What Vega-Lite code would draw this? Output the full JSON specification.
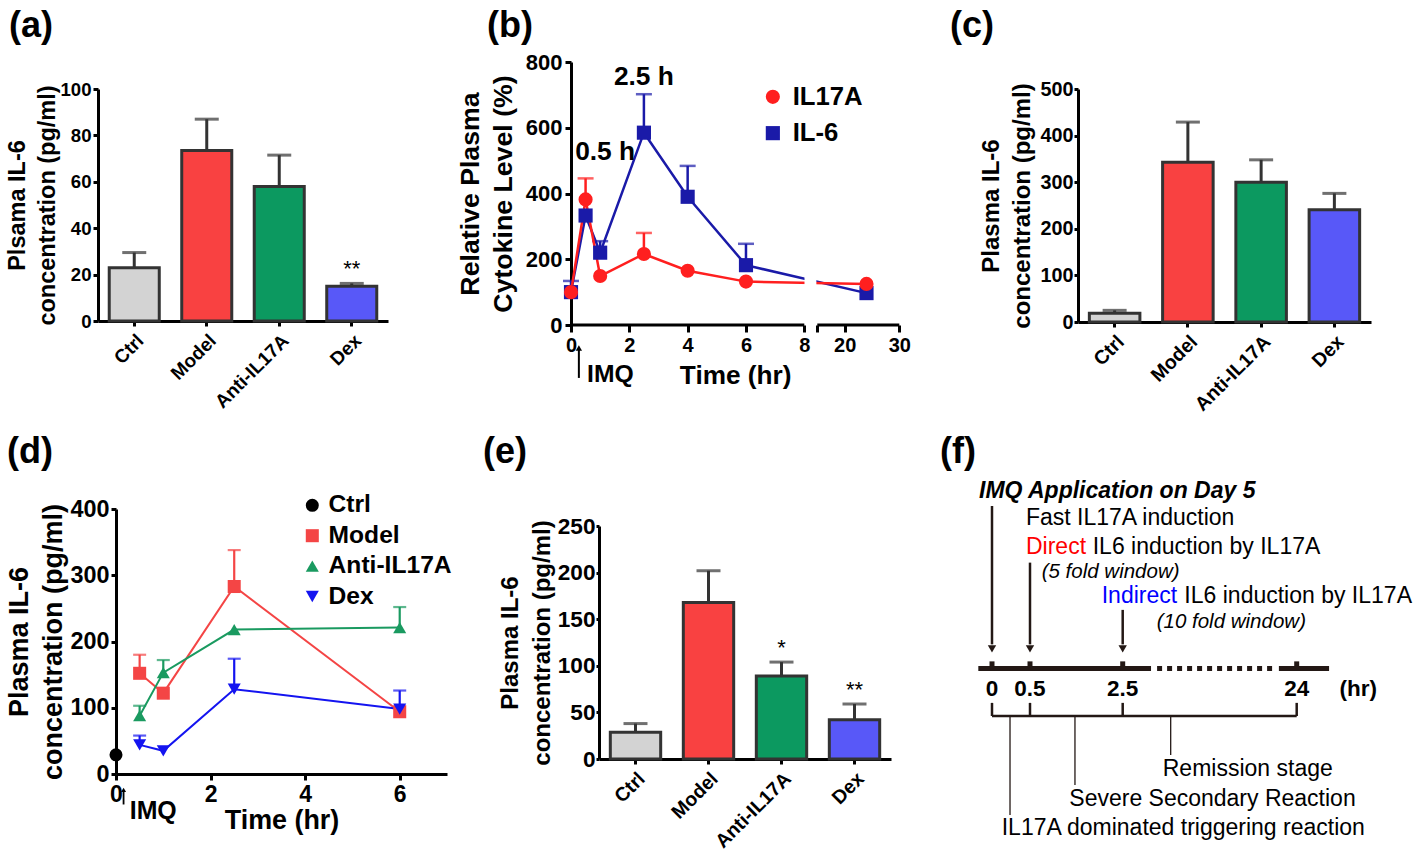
{
  "$schema": "https://vega.github.io/schema/vega-lite/v6.json",
  "background": "white",
  "padding": {"left": 4, "top": 8, "right": 0, "bottom": 0},
  "config": {
    "font": "Liberation Sans",
    "view": {"stroke": null},
    "axis": {"grid": false, "domainColor": "#000000", "domainWidth": 3, "tickColor": "#000000", "tickWidth": 3, "labelColor": "#000000", "labelFont": "Liberation Sans", "labelFontWeight": "bold", "titleColor": "#000000", "titleFont": "Liberation Sans", "titleFontWeight": "bold", "labelOverlap": false, "labelFlush": false},
    "title": {"anchor": "start", "frame": "group", "fontSize": 36, "fontWeight": "bold", "color": "#000000", "font": "Liberation Sans", "offset": 0},
    "legend": {"labelFont": "Liberation Sans", "labelFontWeight": "bold", "labelColor": "#000000"},
    "text": {"font": "Liberation Sans"}
  },
  "datasets": {
    "a": [
      {"g": "Ctrl", "mean": 23, "upper": 29.5},
      {"g": "Model", "mean": 73.5, "upper": 87},
      {"g": "Anti-IL17A", "mean": 58, "upper": 71.5},
      {"g": "Dex", "mean": 15, "upper": 16.2, "sig": "**"}
    ],
    "c": [
      {"g": "Ctrl", "mean": 19, "upper": 25},
      {"g": "Model", "mean": 343, "upper": 429},
      {"g": "Anti-IL17A", "mean": 300, "upper": 348},
      {"g": "Dex", "mean": 241, "upper": 276}
    ],
    "e": [
      {"g": "Ctrl", "mean": 28.6, "upper": 38},
      {"g": "Model", "mean": 168, "upper": 202},
      {"g": "Anti-IL17A", "mean": 89, "upper": 104, "sig": "*"},
      {"g": "Dex", "mean": 42, "upper": 59, "sig": "**"}
    ],
    "b": [
      {"series": "IL-6", "t": 0, "mean": 100, "upper": 134},
      {"series": "IL-6", "t": 0.5, "mean": 333},
      {"series": "IL-6", "t": 1, "mean": 220, "upper": 255},
      {"series": "IL-6", "t": 2.5, "mean": 585, "upper": 702},
      {"series": "IL-6", "t": 4, "mean": 390, "upper": 484},
      {"series": "IL-6", "t": 6, "mean": 182, "upper": 247},
      {"series": "IL-6", "t": 24, "mean": 97},
      {"series": "IL17A", "t": 0, "mean": 100},
      {"series": "IL17A", "t": 0.5, "mean": 382, "upper": 446},
      {"series": "IL17A", "t": 1, "mean": 149},
      {"series": "IL17A", "t": 2.5, "mean": 216, "upper": 280},
      {"series": "IL17A", "t": 4, "mean": 165},
      {"series": "IL17A", "t": 6, "mean": 132},
      {"series": "IL17A", "t": 24, "mean": 125}
    ],
    "d": [
      {"series": "Ctrl", "t": 0, "mean": 29},
      {"series": "Model", "t": 0.5, "mean": 152, "upper": 180},
      {"series": "Model", "t": 1, "mean": 122},
      {"series": "Model", "t": 2.5, "mean": 283, "upper": 338},
      {"series": "Model", "t": 6, "mean": 94},
      {"series": "Anti-IL17A", "t": 0.5, "mean": 88, "upper": 103},
      {"series": "Anti-IL17A", "t": 1, "mean": 153, "upper": 172},
      {"series": "Anti-IL17A", "t": 2.5, "mean": 218},
      {"series": "Anti-IL17A", "t": 6, "mean": 221, "upper": 252},
      {"series": "Dex", "t": 0.5, "mean": 44, "upper": 58},
      {"series": "Dex", "t": 1, "mean": 35},
      {"series": "Dex", "t": 2.5, "mean": 128, "upper": 174},
      {"series": "Dex", "t": 6, "mean": 98, "upper": 126}
    ]
  },
  "spacing": 19,
  "resolve": {"scale": {"color": "independent", "shape": "independent", "fill": "independent", "stroke": "independent"}, "legend": {"color": "independent", "shape": "independent"}},
  "vconcat": [
    {
      "spacing": 0,
      "resolve": {"scale": {"color": "independent", "shape": "independent", "fill": "independent", "stroke": "independent"}, "legend": {"color": "independent", "shape": "independent"}},
      "hconcat": [
        {"width": 1, "height": 1, "data": {"values": []}, "mark": "point"},
        {
          "spacing": 39,
          "resolve": {"scale": {"color": "independent", "shape": "independent", "fill": "independent", "stroke": "independent"}, "legend": {"color": "independent", "shape": "independent"}},
          "hconcat": [
            {
              "spacing": 69,
              "resolve": {"scale": {"color": "independent", "shape": "independent", "fill": "independent", "stroke": "independent"}, "legend": {"color": "independent", "shape": "independent"}},
              "hconcat": [
                {
                  "spacing": 0,
                  "vconcat": [
                    {"title": {"text": "(a)", "dx": -89}, "width": 1, "height": 31, "data": {"values": []}, "mark": "point"},
                    {
                      "width": 290, "height": 232,
                      "data": {"name": "a"},
                      "encoding": {
                        "x": {"field": "g", "type": "nominal", "sort": null, "scale": {"paddingInner": 0.31, "paddingOuter": 0.155},
                              "axis": {"title": null, "labelAngle": -45, "labelFontSize": 19, "tickSize": 5, "labelPadding": 5}}
                      },
                      "layer": [
                        {"mark": {"type": "rule", "color": "#333333", "strokeWidth": 3},
                         "encoding": {
                           "y": {"field": "mean", "type": "quantitative", "scale": {"domain": [0, 100], "nice": false},
                                 "axis": {"values": [0, 20, 40, 60, 80, 100], "title": ["Plsama IL-6", "concentration (pg/ml)"], "titleFontSize": 23.5, "titleLineHeight": 30, "labelFontSize": 18.6, "tickSize": 5, "labelPadding": 2, "titlePadding": 0}},
                           "y2": {"field": "upper"}}},
                        {"mark": {"type": "tick", "orient": "horizontal", "color": "#333333", "size": 24, "thickness": 3},
                         "encoding": {"y": {"field": "upper", "type": "quantitative"}}},
                        {"mark": {"type": "bar", "stroke": "#333333", "strokeWidth": 3},
                         "encoding": {
                           "y": {"field": "mean", "type": "quantitative"},
                           "color": {"field": "g", "type": "nominal", "scale": {"domain": ["Ctrl", "Model", "Anti-IL17A", "Dex"], "range": ["#d3d3d3", "#f94141", "#0c9960", "#5858f8"]}, "legend": null}}},
                        {"transform": [{"filter": "datum.sig != null"}],
                         "mark": {"type": "text", "fontSize": 22, "dy": -14, "color": "#000000"},
                         "encoding": {"y": {"field": "upper", "type": "quantitative"}, "text": {"field": "sig"}}}
                      ]
                    }
                  ]
                },
                {
                  "spacing": 0,
                  "resolve": {"scale": {"color": "independent", "shape": "independent", "fill": "independent", "stroke": "independent"}, "legend": {"color": "independent", "shape": "independent"}},
                  "vconcat": [
                    {"title": {"text": "(b)", "dx": -84}, "width": 1, "height": 2, "data": {"values": []}, "mark": "point"},
                    {
                      "width": 328, "height": 263,
                      "data": {"name": "b"},
                      "encoding": {
                        "x": {"field": "t", "type": "quantitative",
                              "scale": {"domain": [0, 8, 15, 30], "range": [0, 233.3, 246.3, 328.3], "nice": false, "zero": false},
                              "axis": {"domain": false, "values": [0, 2, 4, 6, 8, 15, 20, 30], "labelExpr": "datum.value == 15 ? '' : datum.label", "title": "Time (hr)", "titleFontSize": 26.2, "titlePadding": 7, "labelFontSize": 20, "tickSize": 7, "labelPadding": 3}}
                      },
                      "layer": [
                        {"transform": [{"filter": "datum.upper != null"}],
                         "mark": {"type": "rule", "strokeWidth": 2.5},
                         "encoding": {
                           "y": {"field": "mean", "type": "quantitative", "scale": {"domain": [0, 800], "nice": false},
                                 "axis": {"values": [0, 200, 400, 600, 800], "title": ["Relative Plasma", "Cytokine Level  (%)"], "titleFontSize": 26.7, "titleLineHeight": 33, "labelFontSize": 22, "tickSize": 6, "labelPadding": 3, "titlePadding": 8}},
                           "y2": {"field": "upper"},
                           "stroke": {"field": "series", "type": "nominal", "scale": {"domain": ["IL-6", "IL17A"], "range": ["#1a1aa8", "#ff1f1f"]}, "legend": null}}},
                        {"transform": [{"filter": "datum.upper != null"}],
                         "mark": {"type": "tick", "orient": "horizontal", "size": 16, "thickness": 2.5},
                         "encoding": {
                           "y": {"field": "upper", "type": "quantitative"},
                           "fill": {"field": "series", "type": "nominal", "scale": {"domain": ["IL-6", "IL17A"], "range": ["#1a1aa8", "#ff1f1f"]}, "legend": null}}},
                        {"mark": {"type": "line", "strokeWidth": 2.5},
                         "encoding": {
                           "y": {"field": "mean", "type": "quantitative"},
                           "stroke": {"field": "series", "type": "nominal", "legend": null}}},
                        {"data": {"values": [{"t": 8.1, "t2": 14.5, "v": 100, "v2": 175}]},
                         "mark": {"type": "rect", "color": "white"},
                         "encoding": {"x2": {"field": "t2"}, "y": {"field": "v", "type": "quantitative"}, "y2": {"field": "v2"}}},
                        {"mark": {"type": "point", "filled": true, "size": 200, "opacity": 1},
                         "encoding": {
                           "y": {"field": "mean", "type": "quantitative"},
                           "color": {"field": "series", "type": "nominal", "scale": {"domain": ["IL17A", "IL-6"], "range": ["#ff1f1f", "#1a1aa8"]},
                                     "legend": {"title": null, "orient": "none", "legendX": 189, "legendY": 22, "labelFontSize": 25.7, "labelFontWeight": "bold", "symbolSize": 200, "rowPadding": 9.3, "labelOffset": 7, "padding": 0}},
                           "shape": {"field": "series", "type": "nominal", "scale": {"domain": ["IL17A", "IL-6"], "range": ["circle", "square"]},
                                     "legend": {"title": null, "orient": "none", "legendX": 189, "legendY": 22, "labelFontSize": 25.7, "labelFontWeight": "bold", "symbolSize": 200, "rowPadding": 9.3, "labelOffset": 7, "padding": 0}}}},
                        {"data": {"values": [{"a": 0, "b": 8, "v": 0}, {"a": 15, "b": 30, "v": 0}]},
                         "mark": {"type": "rule", "color": "#000000", "strokeWidth": 3},
                         "encoding": {"x": {"field": "a", "type": "quantitative"}, "x2": {"field": "b"}, "y": {"field": "v", "type": "quantitative"}}},
                        {"data": {"values": [{"label": "2.5 h", "t": 2.5, "v": 754}, {"label": "0.5 h", "t": 1.17, "v": 527}]},
                         "mark": {"type": "text", "fontSize": 26.3, "fontWeight": "bold", "color": "#000000"},
                         "encoding": {"y": {"field": "v", "type": "quantitative"}, "text": {"field": "label"}}},
                        {"data": {"values": [{"label": "IMQ", "t": 0.55, "v": -152}]},
                         "mark": {"type": "text", "fontSize": 24.7, "fontWeight": "bold", "align": "left", "color": "#000000"},
                         "encoding": {"y": {"field": "v", "type": "quantitative"}, "text": {"field": "label"}}},
                        {"data": {"values": [{"t": 0.27, "v": -72, "v2": -161}]},
                         "mark": {"type": "rule", "color": "#000000", "strokeWidth": 2},
                         "encoding": {"y": {"field": "v", "type": "quantitative"}, "y2": {"field": "v2"}}},
                        {"data": {"values": [{"t": 0.27, "v": -70}]},
                         "mark": {"type": "point", "shape": "triangle-up", "size": 40, "filled": true, "color": "#000000", "opacity": 1},
                         "encoding": {"y": {"field": "v", "type": "quantitative"}}}
                      ]
                    }
                  ]
                }
              ]
            },
            {
              "spacing": 0,
              "vconcat": [
                {"title": {"text": "(c)", "dx": -128}, "width": 1, "height": 30, "data": {"values": []}, "mark": "point"},
                {
                  "width": 293, "height": 233,
                  "data": {"name": "c"},
                  "encoding": {
                    "x": {"field": "g", "type": "nominal", "sort": null, "scale": {"paddingInner": 0.31, "paddingOuter": 0.155},
                          "axis": {"title": null, "labelAngle": -45, "labelFontSize": 19.5, "tickSize": 5, "labelPadding": 5}}
                  },
                  "layer": [
                    {"mark": {"type": "rule", "color": "#333333", "strokeWidth": 3},
                     "encoding": {
                       "y": {"field": "mean", "type": "quantitative", "scale": {"domain": [0, 500], "nice": false},
                             "axis": {"values": [0, 100, 200, 300, 400, 500], "title": ["Plasma IL-6", "concentration (pg/ml)"], "titleFontSize": 24, "titleLineHeight": 31.5, "labelFontSize": 19.8, "tickSize": 4, "labelPadding": 1, "titlePadding": 5}},
                       "y2": {"field": "upper"}}},
                    {"mark": {"type": "tick", "orient": "horizontal", "color": "#333333", "size": 24, "thickness": 3},
                     "encoding": {"y": {"field": "upper", "type": "quantitative"}}},
                    {"mark": {"type": "bar", "stroke": "#333333", "strokeWidth": 3},
                     "encoding": {
                       "y": {"field": "mean", "type": "quantitative"},
                       "color": {"field": "g", "type": "nominal", "scale": {"domain": ["Ctrl", "Model", "Anti-IL17A", "Dex"], "range": ["#d3d3d3", "#f94141", "#0c9960", "#5858f8"]}, "legend": null}}}
                  ]
                }
              ]
            }
          ]
        }
      ]
    },
    {
      "spacing": 0,
      "resolve": {"scale": {"color": "independent", "shape": "independent", "fill": "independent", "stroke": "independent"}, "legend": {"color": "independent", "shape": "independent"}},
      "hconcat": [
        {"width": 1, "height": 1, "data": {"values": []}, "mark": "point"},
        {
          "spacing": 49,
          "resolve": {"scale": {"color": "independent", "shape": "independent", "fill": "independent", "stroke": "independent"}, "legend": {"color": "independent", "shape": "independent"}},
          "hconcat": [
            {
              "spacing": 31,
              "resolve": {"scale": {"color": "independent", "shape": "independent", "fill": "independent", "stroke": "independent"}, "legend": {"color": "independent", "shape": "independent"}},
              "hconcat": [
                {
                  "spacing": 0,
                  "resolve": {"scale": {"color": "independent", "shape": "independent", "fill": "independent", "stroke": "independent"}, "legend": {"color": "independent", "shape": "independent"}},
                  "vconcat": [
                    {"title": {"text": "(d)", "dx": -109}, "width": 1, "height": 18, "data": {"values": []}, "mark": "point"},
                    {
                      "width": 331, "height": 265,
                      "data": {"name": "d"},
                      "encoding": {
                        "x": {"field": "t", "type": "quantitative", "scale": {"domain": [0, 7], "nice": false, "zero": false},
                              "axis": {"values": [0, 2, 4, 6], "title": "Time (hr)", "titleFontSize": 26.9, "titlePadding": 1, "labelFontSize": 23, "tickSize": 6, "labelPadding": 3}}
                      },
                      "layer": [
                        {"transform": [{"filter": "datum.upper != null"}],
                         "mark": {"type": "rule", "strokeWidth": 2.2},
                         "encoding": {
                           "y": {"field": "mean", "type": "quantitative", "scale": {"domain": [0, 400], "nice": false},
                                 "axis": {"values": [0, 100, 200, 300, 400], "title": ["Plasma IL-6", "concentration  (pg/ml)"], "titleFontSize": 27, "titleLineHeight": 34, "labelFontSize": 23.4, "tickSize": 5, "labelPadding": 2, "titlePadding": 2}},
                           "y2": {"field": "upper"},
                           "stroke": {"field": "series", "type": "nominal", "scale": {"domain": ["Dex", "Anti-IL17A", "Model", "Ctrl"], "range": ["#1414f0", "#1a9a60", "#f44545", "#000000"]}, "legend": null}}},
                        {"transform": [{"filter": "datum.upper != null"}],
                         "mark": {"type": "tick", "orient": "horizontal", "size": 13, "thickness": 2.2},
                         "encoding": {
                           "y": {"field": "upper", "type": "quantitative"},
                           "fill": {"field": "series", "type": "nominal", "scale": {"domain": ["Dex", "Anti-IL17A", "Model", "Ctrl"], "range": ["#1414f0", "#1a9a60", "#f44545", "#000000"]}, "legend": null}}},
                        {"mark": {"type": "line", "strokeWidth": 2},
                         "encoding": {
                           "y": {"field": "mean", "type": "quantitative"},
                           "stroke": {"field": "series", "type": "nominal", "legend": null}}},
                        {"mark": {"type": "point", "filled": true, "size": 170, "opacity": 1},
                         "encoding": {
                           "y": {"field": "mean", "type": "quantitative"},
                           "color": {"field": "series", "type": "nominal", "scale": {"domain": ["Ctrl", "Model", "Anti-IL17A", "Dex"], "range": ["#000000", "#f44545", "#1a9a60", "#1414f0"]},
                                     "legend": {"title": null, "orient": "none", "legendX": 184, "legendY": -16, "labelFontSize": 24.6, "labelFontWeight": "bold", "symbolSize": 170, "rowPadding": 5.4, "labelOffset": 4, "padding": 0}},
                           "shape": {"field": "series", "type": "nominal", "scale": {"domain": ["Ctrl", "Model", "Anti-IL17A", "Dex"], "range": ["circle", "square", "triangle-up", "triangle-down"]},
                                     "legend": {"title": null, "orient": "none", "legendX": 184, "legendY": -16, "labelFontSize": 24.6, "labelFontWeight": "bold", "symbolSize": 170, "rowPadding": 5.4, "labelOffset": 4, "padding": 0}}}},
                        {"data": {"values": [{"label": "IMQ", "t": 0.29, "v": -57}]},
                         "mark": {"type": "text", "fontSize": 24.9, "fontWeight": "bold", "align": "left", "color": "#000000"},
                         "encoding": {"y": {"field": "v", "type": "quantitative"}, "text": {"field": "label"}}},
                        {"data": {"values": [{"t": 0.16, "v": -26, "v2": -46}]},
                         "mark": {"type": "rule", "color": "#000000", "strokeWidth": 1.8},
                         "encoding": {"y": {"field": "v", "type": "quantitative"}, "y2": {"field": "v2"}}},
                        {"data": {"values": [{"t": 0.16, "v": -24}]},
                         "mark": {"type": "point", "shape": "triangle-up", "size": 25, "filled": true, "color": "#000000", "opacity": 1},
                         "encoding": {"y": {"field": "v", "type": "quantitative"}}}
                      ]
                    }
                  ]
                },
                {
                  "spacing": 0,
                  "vconcat": [
                    {"title": {"text": "(e)", "dx": -116}, "width": 1, "height": 40, "data": {"values": []}, "mark": "point"},
                    {
                      "width": 292, "height": 233,
                      "data": {"name": "e"},
                      "encoding": {
                        "x": {"field": "g", "type": "nominal", "sort": null, "scale": {"paddingInner": 0.31, "paddingOuter": 0.155},
                              "axis": {"title": null, "labelAngle": -45, "labelFontSize": 19.5, "tickSize": 5, "labelPadding": 5}}
                      },
                      "layer": [
                        {"mark": {"type": "rule", "color": "#333333", "strokeWidth": 3},
                         "encoding": {
                           "y": {"field": "mean", "type": "quantitative", "scale": {"domain": [0, 250], "nice": false},
                                 "axis": {"values": [0, 50, 100, 150, 200, 250], "title": ["Plasma IL-6", "concentration (pg/ml)"], "titleFontSize": 24, "titleLineHeight": 31.5, "labelFontSize": 22.6, "tickSize": 3, "labelPadding": 1, "titlePadding": 3}},
                           "y2": {"field": "upper"}}},
                        {"mark": {"type": "tick", "orient": "horizontal", "color": "#333333", "size": 24, "thickness": 3},
                         "encoding": {"y": {"field": "upper", "type": "quantitative"}}},
                        {"mark": {"type": "bar", "stroke": "#333333", "strokeWidth": 3},
                         "encoding": {
                           "y": {"field": "mean", "type": "quantitative"},
                           "color": {"field": "g", "type": "nominal", "scale": {"domain": ["Ctrl", "Model", "Anti-IL17A", "Dex"], "range": ["#d3d3d3", "#f94141", "#0c9960", "#5858f8"]}, "legend": null}}},
                        {"transform": [{"filter": "datum.sig != null"}],
                         "mark": {"type": "text", "fontSize": 22, "dy": -14, "color": "#000000"},
                         "encoding": {"y": {"field": "upper", "type": "quantitative"}, "text": {"field": "sig"}}}
                      ]
                    }
                  ]
                }
              ]
            },
            {
              "spacing": 0,
              "vconcat": [
                {"title": {"text": "(f)", "dx": -25}, "width": 1, "height": 1, "data": {"values": []}, "mark": "point"},
                {
                  "width": 450, "height": 375,
                  "encoding": {
                    "x": {"field": "t", "type": "quantitative", "scale": {"type": "linear", "domain": [0, 0.5, 2.5, 24], "range": [27, 65, 157.7, 331.7], "nice": false, "zero": false}, "axis": null},
                    "y": {"field": "lvl", "type": "quantitative", "scale": {"domain": [-1.6, 98.4], "nice": false, "zero": false}, "axis": null}
                  },
                  "layer": [
                    {"data": {"values": [{"t": -0.18, "t2": 6.0, "lvl": 47.1}, {"t": 21.8, "t2": 28, "lvl": 47.1}]},
                     "mark": {"type": "rule", "strokeWidth": 5, "color": "#231815"},
                     "encoding": {"x2": {"field": "t2"}}},
                    {"data": {"values": [{"t": 6.75, "t2": 21.1, "lvl": 47.1}]},
                     "mark": {"type": "rule", "strokeWidth": 5, "strokeDash": [5, 5], "color": "#231815"},
                     "encoding": {"x2": {"field": "t2"}}},
                    {"data": {"values": [{"t": 0, "lvl": 48.3}, {"t": 0.5, "lvl": 48.3}, {"t": 2.5, "lvl": 48.3}, {"t": 24, "lvl": 48.3}]},
                     "mark": {"type": "point", "shape": "square", "size": 25, "filled": true, "color": "#231815", "opacity": 1}},
                    {"data": {"values": [{"t": 0, "lvl": 90.4, "lvl2": 53.5}, {"t": 0.5, "lvl": 75.3, "lvl2": 53.5}, {"t": 2.5, "lvl": 62.7, "lvl2": 53.5}]},
                     "mark": {"type": "rule", "strokeWidth": 2.5, "color": "#231815"},
                     "encoding": {"y2": {"field": "lvl2"}}},
                    {"data": {"values": [{"t": 0, "lvl": 52.3}, {"t": 0.5, "lvl": 52.3}, {"t": 2.5, "lvl": 52.3}]},
                     "mark": {"type": "point", "shape": "triangle-down", "size": 70, "filled": true, "color": "#231815", "opacity": 1}},
                    {"data": {"values": [{"t": 0, "lvl": 41.5, "label": "0"}, {"t": 0.5, "lvl": 41.5, "label": "0.5"}, {"t": 2.5, "lvl": 41.5, "label": "2.5"}, {"t": 24, "lvl": 41.5, "label": "24"}, {"t": 31.6, "lvl": 41.5, "label": "(hr)"}]},
                     "mark": {"type": "text", "fontSize": 22.5, "fontWeight": "bold", "color": "#000000"},
                     "encoding": {"text": {"field": "label"}}},
                    {"data": {"values": [{"t": 0, "t2": 24, "lvl": 34.4}]},
                     "mark": {"type": "rule", "strokeWidth": 2.5, "color": "#231815"},
                     "encoding": {"x2": {"field": "t2"}}},
                    {"data": {"values": [{"t": 0, "lvl": 34.4, "lvl2": 37.9}, {"t": 0.5, "lvl": 34.4, "lvl2": 37.9}, {"t": 2.5, "lvl": 34.4, "lvl2": 37.9}, {"t": 24, "lvl": 34.4, "lvl2": 37.9}]},
                     "mark": {"type": "rule", "strokeWidth": 2.5, "color": "#231815"},
                     "encoding": {"y2": {"field": "lvl2"}}},
                    {"data": {"values": [{"t": 0.237, "lvl": 34.4, "lvl2": 8.0}, {"t": 1.47, "lvl": 34.4, "lvl2": 16.0}, {"t": 8.43, "lvl": 34.4, "lvl2": 24.0}]},
                     "mark": {"type": "rule", "strokeWidth": 1.3, "color": "#231815"},
                     "encoding": {"y2": {"field": "lvl2"}}},
                    {"data": {"values": [{"t": -0.171, "lvl": 94.4, "label": "IMQ Application on Day 5"}]},
                     "mark": {"type": "text", "fontSize": 23, "fontWeight": "bold", "fontStyle": "italic", "align": "left", "color": "#000000"},
                     "encoding": {"text": {"field": "label"}}},
                    {"data": {"values": [
                      {"t": 0.447, "lvl": 87.2, "label": "Fast IL17A induction"},
                      {"t": 1.853, "lvl": 79.5, "label": "IL6 induction by IL17A"},
                      {"t": 10.12, "lvl": 66.4, "label": "IL6 induction by IL17A"},
                      {"t": 7.45, "lvl": 20.3, "label": "Remission stage"},
                      {"t": 1.348, "lvl": 12.2, "label": "Severe Secondary Reaction"},
                      {"t": 0.128, "lvl": 4.5, "label": "IL17A dominated triggering reaction"}
                     ]},
                     "mark": {"type": "text", "fontSize": 23, "align": "left", "color": "#000000"},
                     "encoding": {"text": {"field": "label"}}},
                    {"data": {"values": [{"t": 0.447, "lvl": 79.5, "label": "Direct"}]},
                     "mark": {"type": "text", "fontSize": 23, "align": "left", "color": "#ff0000"},
                     "encoding": {"text": {"field": "label"}}},
                    {"data": {"values": [{"t": 2.047, "lvl": 66.4, "label": "Indirect"}]},
                     "mark": {"type": "text", "fontSize": 23, "align": "left", "color": "#0000ff"},
                     "encoding": {"text": {"field": "label"}}},
                    {"data": {"values": [{"t": 0.752, "lvl": 72.9, "label": "(5 fold window)"}, {"t": 6.7, "lvl": 59.5, "label": "(10 fold window)"}]},
                     "mark": {"type": "text", "fontSize": 20.5, "fontStyle": "italic", "align": "left", "color": "#000000"},
                     "encoding": {"text": {"field": "label"}}}
                  ]
                }
              ]
            }
          ]
        }
      ]
    }
  ]
}
